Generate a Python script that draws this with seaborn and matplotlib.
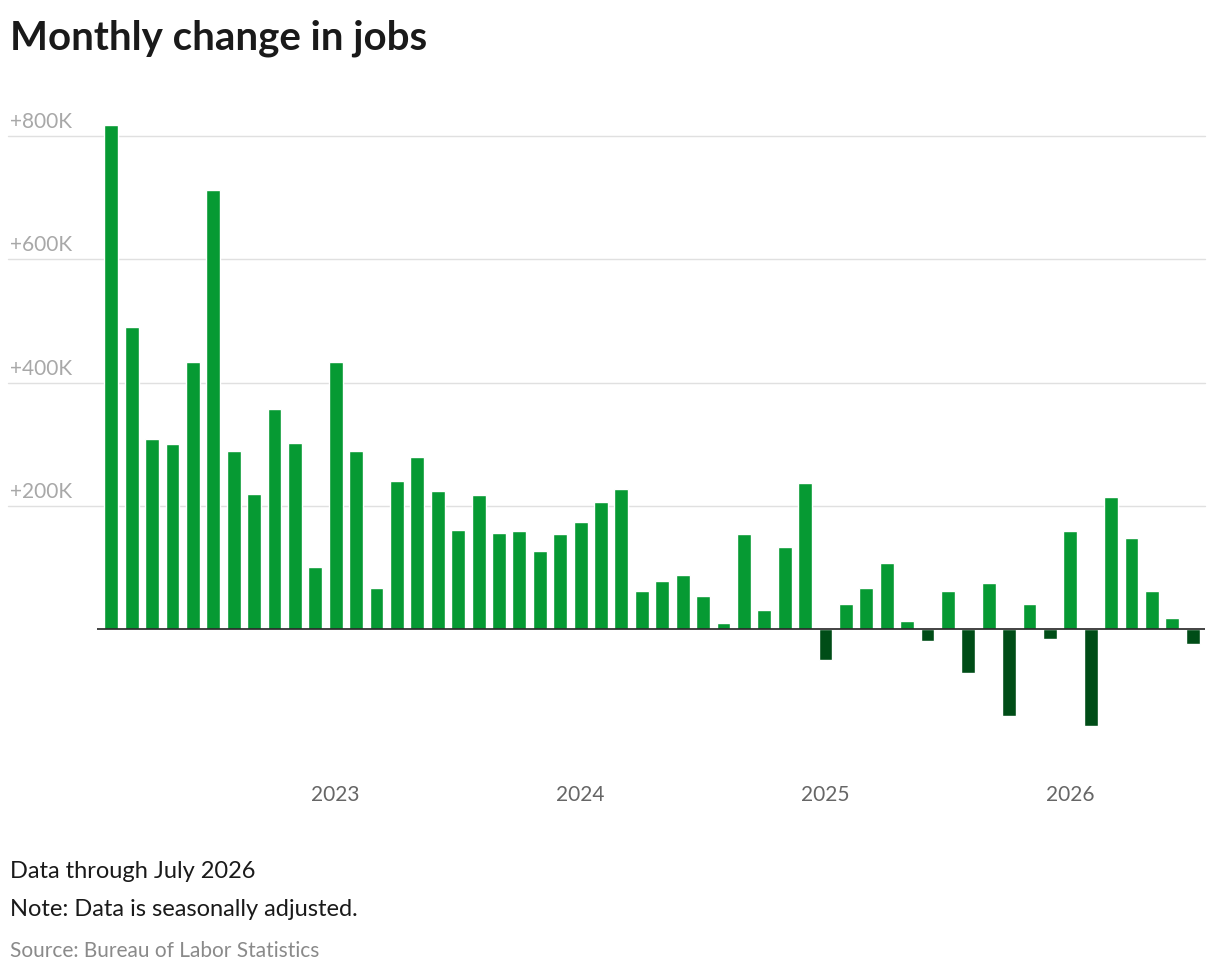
import matplotlib
matplotlib.use("Agg")
import matplotlib.pyplot as plt
import seaborn as sns
import pandas as pd

months = pd.date_range("2022-02-01", "2026-07-01", freq="MS")
values = [818, 490, 308, 300, 433, 713, 289, 219, 357, 302, 101,
          433, 289, 68, 240, 279, 224, 162, 218, 156, 159, 127, 154,
          175, 206, 227, 63, 78, 88, 54, 10, 154, 32, 133, 237,
          -49, 42, 67, 107, 13, -19, 63, -70, 76, -140, 41, -16,
          159, -156, 214, 148, 63, 19, -23]
y_ticks = [200, 400, 600, 800]
year_labels = ["2023", "2024", "2025", "2026"]

df = pd.DataFrame({"month": range(len(values)), "value": values})
df["sign"] = ["pos" if v >= 0 else "neg" for v in values]

sns.set_theme(style="white")
plt.rcParams["font.family"] = ["Lato", "DejaVu Sans"]

fig = plt.figure(figsize=(12.2, 9.78), dpi=100)
ax = fig.add_axes([97/1220, 1 - 760/978, (1205-97)/1220, (760-100)/978])
sns.barplot(data=df, x="month", y="value", hue="sign",
            palette={"pos": "#069a33", "neg": "#004d17"}, width=0.68,
            dodge=False, legend=False, ax=ax, saturation=1)
ax.set_ylim(-210, 860)
ax.set_xlim(-0.7, len(values) - 0.4)
for s in ax.spines.values():
    s.set_visible(False)
ax.set_yticks([]); ax.set_xlabel(""); ax.set_ylabel("")
ax.grid(False)
for t in y_ticks:
    ax.axhline(t, xmin=-0.08, xmax=1.0, color="#e0e0e0", lw=1, zorder=0, clip_on=False)
    ax.text(-87/1108, t + 8, f"+{t}K", transform=ax.get_yaxis_transform(),
            ha="left", va="bottom", fontsize=15, color="#a8a8a8")
ax.axhline(0, color="#222222", lw=1.2, zorder=3)
pos = [months.get_loc(pd.Timestamp(f"{y}-01-01")) for y in year_labels]
ax.set_xticks(pos)
ax.set_xticklabels(year_labels, fontsize=15, color="#666666")
ax.tick_params(axis="x", length=0, pad=18)

fig.text(10/1220, 1 - 38/978, "Monthly change in jobs", fontsize=29, weight="bold",
         color="#1a1a1a", va="center")
fig.text(10/1220, 1 - 872/978, "Data through July 2026", fontsize=17, color="#1a1a1a", va="center")
fig.text(10/1220, 1 - 910/978, "Note: Data is seasonally adjusted.", fontsize=17, color="#1a1a1a", va="center")
fig.text(10/1220, 1 - 951/978, "Source: Bureau of Labor Statistics", fontsize=15, color="#8a8a8a", va="center")
fig.savefig("out.png", dpi=100)
